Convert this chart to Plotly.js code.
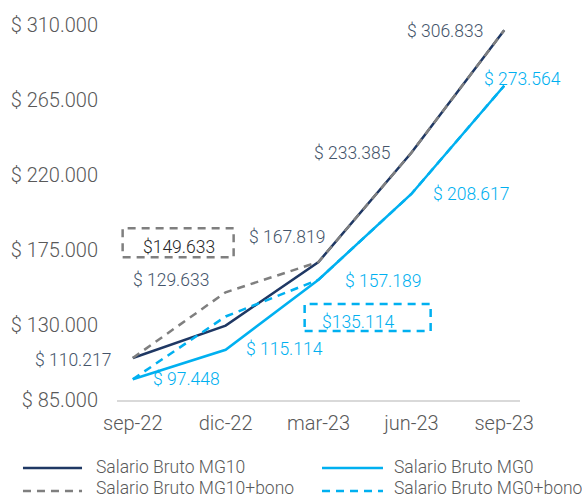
<!DOCTYPE html>
<html>
<head>
<meta charset="utf-8">
<script src="https://cdn.plot.ly/plotly-3.0.1.min.js"></script>
<style>html,body{margin:0;padding:0;background:#fff;}#chart{width:582px;height:497px;}</style>
</head>
<body>
<div id="chart"></div>
<script>
var categories = ["sep-22", "dic-22", "mar-23", "jun-23", "sep-23"];
var mg10 = [110217, 129633, 167819, 233385, 306833];
var mg0 = [97448, 115114, 157189, 208617, 273564];
var mg10Bono = [110217, 149633, 167819, 233385, 306833];
var mg0Bono = [97448, 135114, 157189, 208617, 273564];
var seriesNames = ["Salario Bruto MG10", "Salario Bruto MG0", "Salario Bruto MG10+bono", "Salario Bruto MG0+bono"];
var yTickVals = [85000, 130000, 175000, 220000, 265000, 310000];

var NAVY = "#1f3864", NAVYTXT = "#44546a", BLUE = "#00b0f0", GRAY = "#7f7f7f", TXT = "#595959";
var FONT = "Roboto";
var LBL = 17.5;

function fmt(v, sp) {
  var s = String(v).replace(/\B(?=(\d{3})+(?!\d))/g, ".");
  return "$" + (sp ? " " : "") + s;
}

var xIdx = categories.map(function (c, i) { return i; });

var traces = [
  {x: xIdx, y: mg10, name: seriesNames[0], mode: "lines", line: {color: NAVY, width: 2.5}},
  {x: xIdx, y: mg0, name: seriesNames[1], mode: "lines", line: {color: BLUE, width: 2.5}},
  {x: xIdx, y: mg10Bono, name: seriesNames[2], mode: "lines", line: {color: GRAY, width: 2.5, dash: "8px,6px"}},
  {x: xIdx, y: mg0Bono, name: seriesNames[3], mode: "lines", line: {color: BLUE, width: 2.5, dash: "8px,6px"}}
];
traces.forEach(function (t) { t.showlegend = false; t.hoverinfo = "skip"; });

// label placement: [series, index, xshift, yshift, color, spaced]
var labelSpecs = [
  [mg10, 0, -60, -2, NAVYTXT, true],
  [mg0, 0, 54, 0, BLUE, true],
  [mg10, 1, -55, 46, NAVYTXT, true],
  [mg10Bono, 1, -47, 45, "#262626", false],
  [mg0, 1, 59, 1, BLUE, true],
  [mg0Bono, 1, 132, -6, BLUE, false],
  [mg10, 2, -32, 25, NAVYTXT, true],
  [mg0, 2, 64, -1, BLUE, true],
  [mg10, 3, -59, 0, NAVYTXT, true],
  [mg0, 3, 60, 0, BLUE, true],
  [mg10, 4, -59, -1, NAVYTXT, true],
  [mg0, 4, 18, 7, BLUE, true]
];
var annotations = labelSpecs.map(function (s) {
  return {x: s[1], y: s[0][s[1]], xref: "x", yref: "y", text: fmt(s[0][s[1]], s[5]),
    showarrow: false, xanchor: "center", yanchor: "middle", xshift: s[2], yshift: s[3],
    font: {family: FONT, size: LBL, color: s[4], weight: 300}};
});

var shapes = [
  {type: "rect", xref: "x", yref: "y", xsizemode: "pixel", ysizemode: "pixel",
   xanchor: 1, yanchor: mg10Bono[1], x0: -103, x1: 8, y0: 35, y1: 64,
   line: {color: GRAY, width: 2.5, dash: "8px,6px"}, fillcolor: "rgba(0,0,0,0)"},
  {type: "rect", xref: "x", yref: "y", xsizemode: "pixel", ysizemode: "pixel",
   xanchor: 1, yanchor: mg0Bono[1], x0: 79, x1: 205, y0: -14.5, y1: 12.5,
   line: {color: BLUE, width: 2.5, dash: "8px,6px"}, fillcolor: "rgba(0,0,0,0)"}
];

// manual legend (paper coordinates)
var legendItems = [
  {name: seriesNames[0], color: NAVY, dash: "solid", lx0: -0.2333, lx1: -0.0868, tx: -0.0546, ly: -0.1813, ty: -0.1787},
  {name: seriesNames[1], color: BLUE, dash: "solid", lx0: 0.5087, lx1: 0.660, tx: 0.685, ly: -0.1813, ty: -0.1787},
  {name: seriesNames[2], color: GRAY, dash: "8px,6px", lx0: -0.2333, lx1: -0.0868, tx: -0.0546, ly: -0.2427, ty: -0.2347},
  {name: seriesNames[3], color: BLUE, dash: "8px,6px", lx0: 0.5087, lx1: 0.660, tx: 0.685, ly: -0.2427, ty: -0.2347}
];
legendItems.forEach(function (it) {
  shapes.push({type: "line", xref: "paper", yref: "paper", x0: it.lx0, x1: it.lx1, y0: it.ly, y1: it.ly,
    line: {color: it.color, width: 2.5, dash: it.dash}});
  annotations.push({xref: "paper", yref: "paper", x: it.tx, y: it.ty, text: it.name, showarrow: false,
    xanchor: "left", yanchor: "middle", borderpad: 0,
    font: {family: FONT, size: LBL, color: TXT, weight: 300}});
});

var layout = {
  width: 582, height: 497,
  margin: {l: 117, r: 62, t: 25, b: 97},
  paper_bgcolor: "#fff", plot_bgcolor: "#fff",
  showlegend: false,
  font: {family: FONT, color: TXT, weight: 300},
  xaxis: {
    range: [-0.17, 4.17], tickvals: xIdx, ticktext: categories, showgrid: false, zeroline: false,
    showline: true, linecolor: "#d9d9d9", linewidth: 1.5, ticks: "", ticklabelstandoff: 4,
    tickfont: {family: FONT, size: 20, color: TXT, weight: 300}
  },
  yaxis: {
    range: [85000, 310000], tickvals: yTickVals, ticktext: yTickVals.map(function (v) { return fmt(v, true); }),
    showgrid: false, zeroline: false, showline: false, ticks: "", ticklabelstandoff: 18,
    tickfont: {family: FONT, size: 20, color: TXT, weight: 300}
  },
  annotations: annotations,
  shapes: shapes
};

Plotly.newPlot("chart", traces, layout, {displayModeBar: false, staticPlot: true});
</script>
</body>
</html>
